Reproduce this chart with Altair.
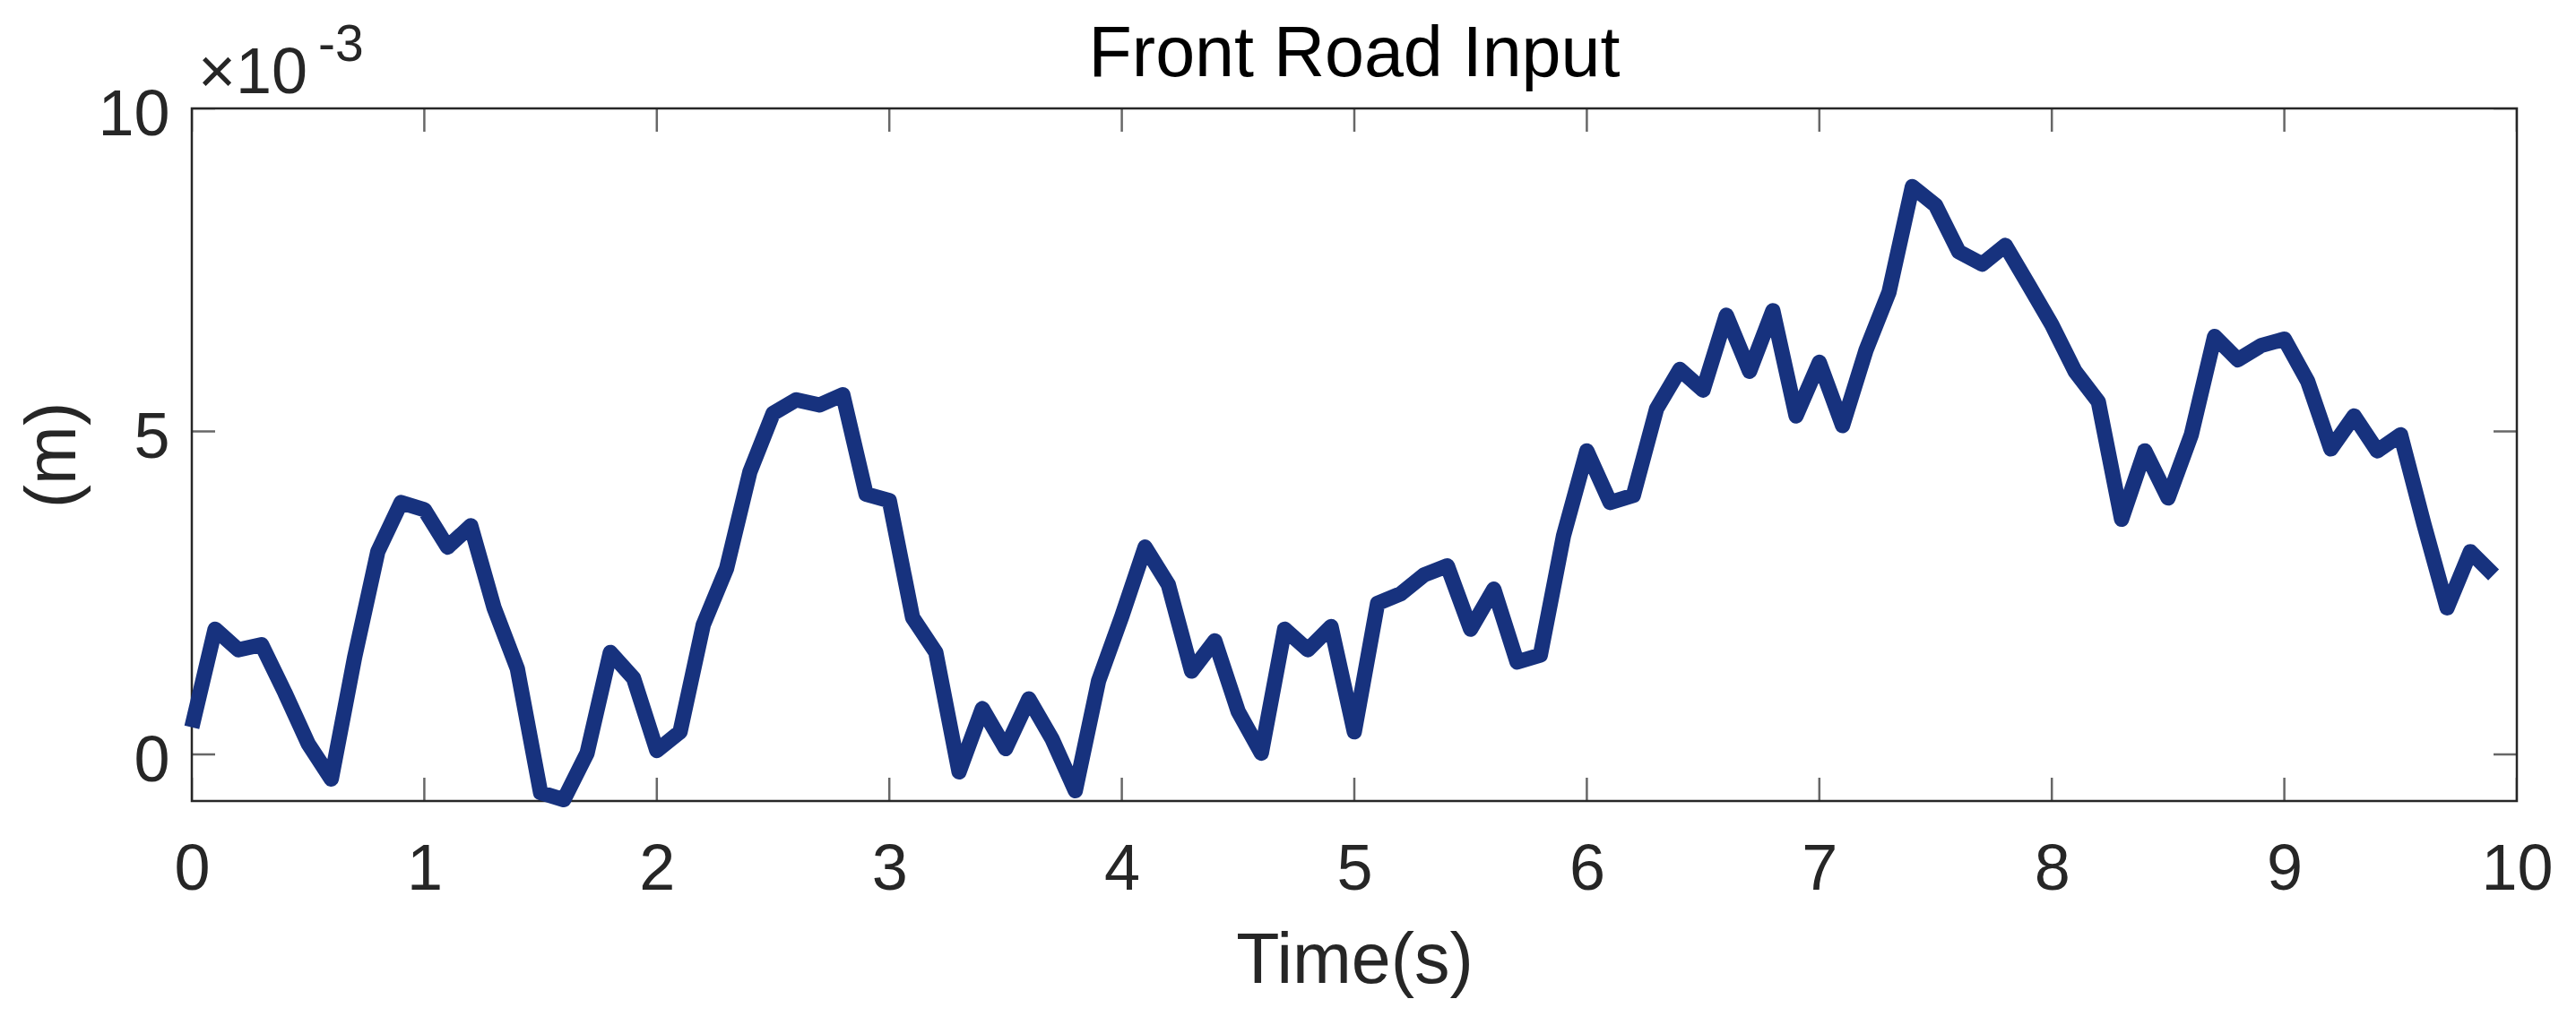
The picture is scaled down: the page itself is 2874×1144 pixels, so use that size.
import altair as alt
import pandas as pd

# Time (s)
time_s = [0.0, 0.1, 0.2, 0.3, 0.4, 0.5, 0.6, 0.7, 0.8, 0.9,
          1.0, 1.1, 1.2, 1.3, 1.4, 1.5, 1.6, 1.7, 1.8, 1.9,
          2.0, 2.1, 2.2, 2.3, 2.4, 2.5, 2.6, 2.7, 2.8, 2.9,
          3.0, 3.1, 3.2, 3.3, 3.4, 3.5, 3.6, 3.7, 3.8, 3.9,
          4.0, 4.1, 4.2, 4.3, 4.4, 4.5, 4.6, 4.7, 4.8, 4.9,
          5.0, 5.1, 5.2, 5.3, 5.4, 5.5, 5.6, 5.7, 5.8, 5.9,
          6.0, 6.1, 6.2, 6.3, 6.4, 6.5, 6.6, 6.7, 6.8, 6.9,
          7.0, 7.1, 7.2, 7.3, 7.4, 7.5, 7.6, 7.7, 7.8, 7.9,
          8.0, 8.1, 8.2, 8.3, 8.4, 8.5, 8.6, 8.7, 8.8, 8.9,
          9.0, 9.1, 9.2, 9.3, 9.4, 9.5, 9.6, 9.7, 9.8, 9.9]

# Road input in units of 1e-3 m
road_e3 = [0.42, 1.94, 1.62, 1.70, 0.96, 0.17, -0.38, 1.50, 3.14, 3.90,
           3.79, 3.21, 3.54, 2.27, 1.33, -0.59, -0.70, 0.02, 1.58, 1.18,
           0.06, 0.35, 2.01, 2.88, 4.37, 5.28, 5.49, 5.41, 5.57, 4.03,
           3.93, 2.12, 1.58, -0.27, 0.71, 0.09, 0.86, 0.24, -0.56, 1.14,
           2.14, 3.21, 2.63, 1.29, 1.76, 0.67, 0.02, 1.94, 1.62, 1.98,
           0.35, 2.34, 2.49, 2.78, 2.92, 1.94, 2.56, 1.43, 1.54, 3.39,
           4.70, 3.90, 4.01, 5.35, 5.96, 5.64, 6.80, 5.93, 6.87, 5.24,
           6.07, 5.09, 6.25, 7.16, 8.79, 8.50, 7.78, 7.59, 7.88, 7.27,
           6.65, 5.93, 5.46, 3.64, 4.70, 3.97, 4.95, 6.47, 6.11, 6.33,
           6.43, 5.78, 4.73, 5.24, 4.70, 4.95, 3.57, 2.27, 3.14, 2.78]

x_ticks = [0, 1, 2, 3, 4, 5, 6, 7, 8, 9, 10]
y_ticks = [0, 5, 10]
x_domain = [0, 10]
y_domain = [-0.72, 10]

title_text = "Front Road Input"
x_label = "Time(s)"
y_label = "(m)"
exp_base = "\u00d710"
exp_power = "-3"

W = 2594
H = 773
FONT = "Liberation Sans"
AX = "#262626"
LINE = "#17327E"

df = pd.DataFrame({"t": time_s, "y": road_e3})
xt = pd.DataFrame({"t": x_ticks})
yt = pd.DataFrame({"y": y_ticks})

xs = alt.Scale(domain=x_domain, nice=False, zero=False)
ys = alt.Scale(domain=y_domain, nice=False, zero=False)

x_axis = alt.Axis(
    values=x_ticks, format="d", title=x_label, domain=False, ticks=False,
    grid=False, labelFont=FONT, labelFontSize=72, labelColor=AX,
    labelPadding=41, labelFlush=False, labelOverlap=False,
    titleFont=FONT, titleFontSize=79, titleFontWeight="normal",
    titleColor=AX, titleX=W / 2, titleY=202, titleAlign="center",
    titleBaseline="alphabetic")
y_axis = alt.Axis(
    values=y_ticks, format="d", title=y_label, domain=False, ticks=False,
    grid=False, labelFont=FONT, labelFontSize=72, labelColor=AX,
    labelPadding=25, labelOffset=7, labelFlush=False, labelOverlap=False,
    titleFont=FONT, titleFontSize=79, titleFontWeight="normal",
    titleColor=AX, titleAngle=270, titleX=-131, titleY=H / 2,
    titleAlign="center", titleBaseline="alphabetic")

X = alt.X("t:Q", scale=xs, axis=x_axis)
Y = alt.Y("y:Q", scale=ys, axis=y_axis)

line = alt.Chart(df).mark_line(
    color=LINE, strokeWidth=17, strokeJoin="round", strokeCap="butt"
).encode(x=X, y=Y)

xtick_bottom = alt.Chart(xt).mark_tick(
    orient="vertical", size=52, thickness=2.5, color=AX, clip=True
).encode(x=X, y=alt.value(H))
xtick_top = alt.Chart(xt).mark_tick(
    orient="vertical", size=52, thickness=2.5, color=AX, clip=True
).encode(x=X, y=alt.value(0))
ytick_left = alt.Chart(yt).mark_tick(
    orient="horizontal", size=52, thickness=2.5, color=AX, clip=True
).encode(y=Y, x=alt.value(0))
ytick_right = alt.Chart(yt).mark_tick(
    orient="horizontal", size=52, thickness=2.5, color=AX, clip=True
).encode(y=Y, x=alt.value(W))

txt = pd.DataFrame({"title": [title_text], "base": [exp_base], "pw": [exp_power]})

title = alt.Chart(txt).mark_text(
    font=FONT, fontSize=79, color="#000000", align="center", baseline="alphabetic"
).encode(text="title:N", x=alt.value(W / 2), y=alt.value(-36))

expo_base = alt.Chart(txt).mark_text(
    font=FONT, fontSize=72, color=AX, align="left", baseline="alphabetic"
).encode(text="base:N", x=alt.value(7), y=alt.value(-17))

expo_pw = alt.Chart(txt).mark_text(
    font=FONT, fontSize=57, color=AX, align="left", baseline="alphabetic"
).encode(text="pw:N", x=alt.value(141), y=alt.value(-53))

chart = alt.layer(
    line, xtick_bottom, xtick_top, ytick_left, ytick_right,
    title, expo_base, expo_pw
).properties(
    width=W, height=H,
    autosize=alt.AutoSizeParams(type="none"),
    padding={"left": 206, "top": 113, "right": 58, "bottom": 242},
    background="white",
).configure_view(stroke=AX, strokeWidth=2.5)

chart.save("out.html", embed_options={"renderer": "svg", "actions": False})
